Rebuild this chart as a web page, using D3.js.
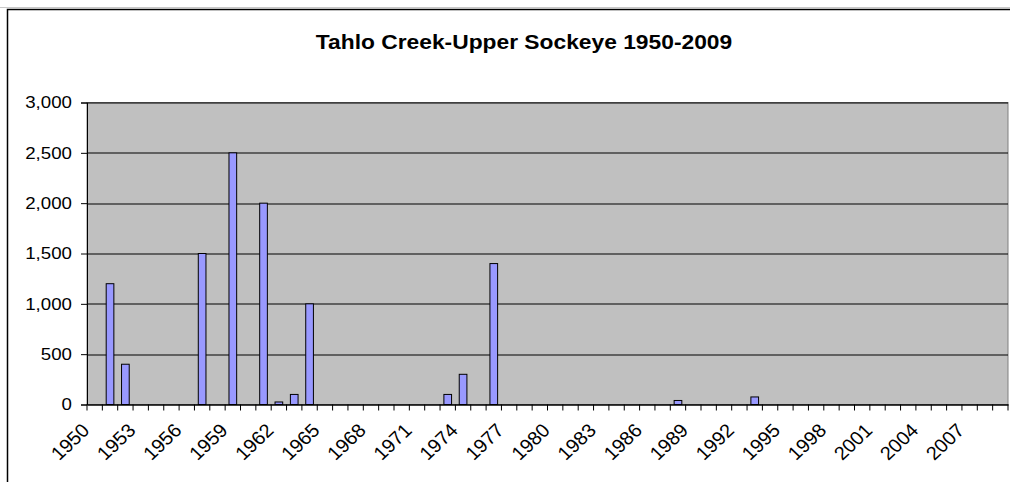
<!DOCTYPE html>
<html>
<head>
<meta charset="utf-8">
<script src="https://cdn.jsdelivr.net/npm/d3@7"></script>
<style>
  body { margin: 0; background: #fff; }
  text { font-family: Arial, "Liberation Sans", sans-serif; fill: #000; }
</style>
</head>
<body>
<div id="visual" style="width:1010px;height:482px;"></div>
<script>
var years = ['1950','1951','1952','1953','1954','1955','1956','1957','1958','1959',
    '1960','1961','1962','1963','1964','1965','1966','1967','1968','1969',
    '1970','1971','1972','1973','1974','1975','1976','1977','1978','1979',
    '1980','1981','1982','1983','1984','1985','1986','1987','1988','1989',
    '1990','1991','1992','1993','1994','1995','1996','1997','1998','1999',
    '2000','2001','2002','2003','2004','2005','2006','2007','2008','2009'];

// escapement counts (empty = no count)
var counts = [null, 1200, 400, null, null, null, null, 1500, null, 2500,
    null, 2000, 25, 100, 1000, null, null, null, null, null,
    null, null, null, 100, 300, null, 1400, null, null, null,
    null, null, null, null, null, null, null, null, 40, null,
    null, null, null, 75, null, null, null, null, null, null,
    null, null, null, null, null, null, null, null, null, null];

var x_labels = ['1950','1953','1956','1959','1962','1965','1968','1971','1974','1977',
    '1980','1983','1986','1989','1992','1995','1998','2001','2004','2007'];

var y_ticks = [0, 500, 1000, 1500, 2000, 2500, 3000];

var title = 'Tahlo Creek-Upper Sockeye 1950-2009';

var margin = { top: 102.5, bottom: 77.5, left: 87, right: 2 };
var width = 1010 - margin.left - margin.right;
var height = 482 - margin.top - margin.bottom;
var stretch = 1.1;

var root = d3.select('#visual')
    .append('svg')
    .attr('width', 1010)
    .attr('height', 482);

// chart frame
root.append('line')
    .attr('x1', 0).attr('x2', 1010)
    .attr('y1', 7.5).attr('y2', 7.5)
    .attr('stroke', '#c8c8c8');
root.append('rect')
    .attr('x', 7.5).attr('y', 9.5)
    .attr('width', 1100).attr('height', 600)
    .attr('fill', 'none')
    .attr('stroke', '#000')
    .attr('stroke-width', 1.5);

root.append('text')
    .attr('transform', 'translate(524,49) scale(1.14,1)')
    .attr('text-anchor', 'middle')
    .attr('font-size', '20px')
    .attr('font-weight', 'bold')
    .text(title);

var svg = root.append('g')
    .attr('transform', 'translate(' + margin.left + ',' + margin.top + ')');

var x_scale = d3.scaleBand()
    .domain(years)
    .range([0, width])
    .padding(0);

var y_scale = d3.scaleLinear()
    .domain([0, 3000])
    .range([height, 0]);

svg.append('rect')
    .attr('width', width)
    .attr('height', height)
    .attr('fill', '#c0c0c0')
    .attr('stroke', '#808080');

svg.selectAll('.grid')
    .data(y_ticks.filter(function (d) { return d > 0; }))
    .enter().append('line')
    .attr('class', 'grid')
    .attr('x1', 0).attr('x2', width)
    .attr('y1', function (d) { return Math.round(y_scale(d)) + 0.5; })
    .attr('y2', function (d) { return Math.round(y_scale(d)) + 0.5; })
    .attr('stroke', '#000')
    .attr('stroke-width', 1);

var bw = x_scale.bandwidth();
var data = years.map(function (y, i) { return { year: y, value: counts[i] }; })
    .filter(function (d) { return d.value !== null; });

svg.selectAll('.bar')
    .data(data)
    .enter().append('rect')
    .attr('class', 'bar')
    .attr('x', function (d) { return x_scale(d.year) + bw / 4; })
    .attr('width', bw / 2)
    .attr('y', function (d) { return y_scale(d.value); })
    .attr('height', function (d) { return height - y_scale(d.value); })
    .attr('fill', '#9999ff')
    .attr('stroke', '#000')
    .attr('stroke-width', 1);

// y axis
var y_axis = d3.axisLeft(y_scale)
    .tickValues(y_ticks)
    .tickSize(6)
    .tickPadding(9)
    .tickFormat(d3.format(','));

var gy = svg.append('g').attr('class', 'y axis').call(y_axis);
gy.select('.domain').attr('stroke', '#000');
gy.selectAll('.tick line').attr('stroke', '#000');
gy.selectAll('text')
    .attr('font-size', '17px')
    .attr('font-family', 'Arial, "Liberation Sans", sans-serif')
    .attr('x', -15 / stretch)
    .attr('transform', 'scale(' + stretch + ',1)');

// x axis
var x_axis = d3.axisBottom(x_scale).tickSize(0).tickFormat('');
var gx = svg.append('g')
    .attr('class', 'x axis')
    .attr('transform', 'translate(0,' + height + ')')
    .call(x_axis);
gx.select('.domain').attr('stroke', '#000').attr('stroke-width', 1.5);
gx.selectAll('.tick').remove();

gx.selectAll('.xtick')
    .data(years.concat(['end']))
    .enter().append('line')
    .attr('class', 'xtick')
    .attr('x1', function (d) { return d === 'end' ? width : x_scale(d); })
    .attr('x2', function (d) { return d === 'end' ? width : x_scale(d); })
    .attr('y1', 0).attr('y2', 6)
    .attr('stroke', '#000');

gx.selectAll('.xlabel')
    .data(x_labels)
    .enter().append('text')
    .attr('class', 'xlabel')
    .attr('transform', function (d) {
        return 'translate(' + (x_scale(d) + bw / 2 - 4) + ',27) scale(1.05,1) rotate(-45)';
    })
    .attr('text-anchor', 'end')
    .attr('font-size', '19px')
    .text(function (d) { return d; });
</script>
</body>
</html>
